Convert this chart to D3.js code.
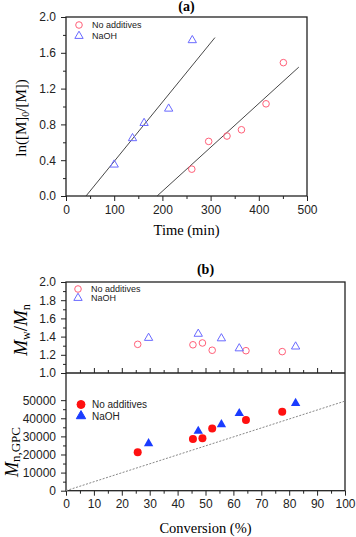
<!DOCTYPE html>
<html>
<head>
<meta charset="utf-8">
<script src="https://cdn.jsdelivr.net/npm/d3@7"></script>
<style>
  body { margin: 0; background: #fff; }
  .tick text { font-family: "Liberation Sans", Arial, sans-serif; font-size: 12px; fill: #222; }
  .axis path, .axis line { stroke: #222; }
</style>
</head>
<body>
<div id="chart"></div>
<script>
// panel (a): first-order kinetics
const timeNoAdd = [261, 296, 334, 364, 415, 451];
const lnNoAdd = [0.30, 0.61, 0.67, 0.74, 1.03, 1.49];
const timeNaOH = [100, 138, 162, 213, 262];
const lnNaOH = [0.35, 0.645, 0.815, 0.975, 1.74];
const fitNoAddT = [189, 483];
const fitNoAddY = [0, 1.44];
const fitNaOHT = [41.5, 309];
const fitNaOHY = [0, 1.77];

// panel (b): dispersity and Mn vs conversion
const convNoAdd = [25.7, 45.5, 48.9, 52.4, 64.5, 77.5];
const pdiNoAdd = [1.315, 1.31, 1.33, 1.25, 1.245, 1.235];
const mnNoAdd = [21200, 28500, 29000, 34400, 39100, 43600];
const convNaOH = [29.6, 47.4, 55.7, 62.1, 82.3];
const pdiNaOH = [1.385, 1.43, 1.38, 1.27, 1.29];
const mnNaOH = [26100, 32900, 36600, 42700, 48300];
const theoryConv = [0, 100];
const theoryMn = [0, 49500];

const legendNames = ["No additives", "NaOH"];

const W = 356, H = 537;
const pinkC = "#ff5f78", lightBlue = "#6a6aff", red = "#ff1010", blue = "#1a3cff";

const svg = d3.select("#chart").append("svg")
    .attr("width", W).attr("height", H);

const serif = "'Liberation Serif', 'Times New Roman', serif";
const sans = "'Liberation Sans', Arial, sans-serif";

function zip(a, b) { return a.map((v, i) => [v, b[i]]); }

// small helper to draw an axis with minor ticks
function drawAxis(gen, minorGen, transform) {
    if (minorGen) {
        svg.append("g").attr("class", "axis").attr("transform", transform)
            .call(minorGen).call(g => g.select(".domain").remove());
    }
    svg.append("g").attr("class", "axis").attr("transform", transform)
        .call(gen).call(g => g.select(".domain").remove());
}

// ---------- panel (a) ----------
const ax = {left: 66, right: 307, top: 17, bottom: 196};
const xA = d3.scaleLinear().domain([0, 500]).range([ax.left, ax.right]);
const yA = d3.scaleLinear().domain([0, 2]).range([ax.bottom, ax.top]);

drawAxis(d3.axisBottom(xA).tickValues(d3.range(0, 501, 100)).tickSize(5).tickPadding(4).tickFormat(d3.format("d")),
    d3.axisBottom(xA).tickValues(d3.range(50, 500, 100)).tickSize(3).tickFormat(""),
    `translate(0,${ax.bottom})`);
drawAxis(d3.axisLeft(yA).tickValues(d3.range(0, 2.01, 0.4)).tickSize(5).tickPadding(5).tickFormat(d3.format(".1f")),
    d3.axisLeft(yA).tickValues(d3.range(0.2, 2, 0.4)).tickSize(3).tickFormat(""),
    `translate(${ax.left},0)`);

svg.append("rect").attr("x", ax.left).attr("y", ax.top)
    .attr("width", ax.right - ax.left).attr("height", ax.bottom - ax.top)
    .attr("fill", "none").attr("stroke", "#222").attr("stroke-width", 1.3);

const lineA = d3.line().x(d => xA(d[0])).y(d => yA(d[1]));
[zip(fitNoAddT, fitNoAddY), zip(fitNaOHT, fitNaOHY)].forEach(pts => {
    svg.append("path").attr("d", lineA(pts))
        .attr("fill", "none").attr("stroke", "#333").attr("stroke-width", 0.9);
});

svg.append("g").selectAll("circle").data(zip(timeNoAdd, lnNoAdd)).join("circle")
    .attr("cx", d => xA(d[0])).attr("cy", d => yA(d[1])).attr("r", 3.3)
    .attr("fill", "none").attr("stroke", pinkC).attr("stroke-width", 1);
const triOpen = d3.symbol().type(d3.symbolTriangle).size(30);
svg.append("g").selectAll("path").data(zip(timeNaOH, lnNaOH)).join("path")
    .attr("d", triOpen).attr("transform", d => `translate(${xA(d[0])},${yA(d[1])})`)
    .attr("fill", "none").attr("stroke", lightBlue).attr("stroke-width", 1);

function legend(x, y, dy, fs, filled) {
    const g = svg.append("g");
    g.append("circle").attr("cx", x).attr("cy", y).attr("r", filled ? 4 : 3.3)
        .attr("fill", filled ? red : "none").attr("stroke", filled ? red : pinkC);
    g.append("path").attr("d", d3.symbol().type(d3.symbolTriangle).size(filled ? 38 : 30)())
        .attr("transform", `translate(${x},${y + dy})`)
        .attr("fill", filled ? blue : "none").attr("stroke", filled ? blue : lightBlue);
    legendNames.forEach((n, i) => {
        g.append("text").attr("x", x + (filled ? 11 : 13)).attr("y", y + i * dy)
            .attr("dy", "0.35em").attr("font-family", sans).attr("font-size", fs)
            .attr("fill", "#222").text(n);
    });
}
legend(79, 25, 11, 9, false);

svg.append("text").attr("x", (ax.left + ax.right) / 2).attr("y", 11)
    .attr("text-anchor", "middle").attr("font-family", serif).attr("font-weight", "bold")
    .attr("font-size", 14).text("(a)");
svg.append("text").attr("x", (ax.left + ax.right) / 2).attr("y", 235)
    .attr("text-anchor", "middle").attr("font-family", serif).attr("font-size", 14.5)
    .text("Time (min)");
const ylabA = svg.append("text").attr("transform", "translate(26,118) rotate(-90)")
    .attr("text-anchor", "middle").attr("font-family", serif).attr("font-size", 15);
ylabA.append("tspan").text("ln([M]");
ylabA.append("tspan").attr("font-size", 10).attr("dy", 3).text("0");
ylabA.append("tspan").attr("dy", -3).text("/[M])");

// ---------- panel (b) ----------
const bx = {left: 66, right: 345, top: 282, mid: 373, bottom: 490.7};
const xB = d3.scaleLinear().domain([0, 100]).range([bx.left, bx.right]);
const yPdi = d3.scaleLinear().domain([1, 2]).range([bx.mid, bx.top]);
const yMn = d3.scaleLinear().domain([0, 65000]).range([bx.bottom, bx.mid]);

drawAxis(d3.axisBottom(xB).tickValues(d3.range(0, 101, 10)).tickSize(5).tickPadding(4).tickFormat(d3.format("d")),
    d3.axisBottom(xB).tickValues(d3.range(5, 100, 10)).tickSize(3).tickFormat(""),
    `translate(0,${bx.bottom})`);
// ticks on shared border pointing up
drawAxis(d3.axisTop(xB).tickValues(d3.range(10, 100, 10)).tickSize(5).tickFormat(""),
    d3.axisTop(xB).tickValues(d3.range(5, 100, 10)).tickSize(3).tickFormat(""),
    `translate(0,${bx.mid})`);
drawAxis(d3.axisLeft(yPdi).tickValues(d3.range(1, 2.01, 0.2)).tickSize(5).tickPadding(5).tickFormat(d3.format(".1f")),
    d3.axisLeft(yPdi).tickValues(d3.range(1.1, 2, 0.2)).tickSize(3).tickFormat(""),
    `translate(${bx.left},0)`);
drawAxis(d3.axisLeft(yMn).tickValues(d3.range(0, 50001, 10000)).tickSize(5).tickPadding(5).tickFormat(d3.format("d")),
    d3.axisLeft(yMn).tickValues(d3.range(5000, 50000, 10000)).tickSize(3).tickFormat(""),
    `translate(${bx.left},0)`);

svg.append("rect").attr("x", bx.left).attr("y", bx.top)
    .attr("width", bx.right - bx.left).attr("height", bx.bottom - bx.top)
    .attr("fill", "none").attr("stroke", "#222").attr("stroke-width", 1.3);
svg.append("line").attr("x1", bx.left).attr("x2", bx.right).attr("y1", bx.mid).attr("y2", bx.mid)
    .attr("stroke", "#222").attr("stroke-width", 1.3);

const lineB = d3.line().x(d => xB(d[0])).y(d => yMn(d[1]));
svg.append("path").attr("d", lineB(zip(theoryConv, theoryMn)))
    .attr("fill", "none").attr("stroke", "#888").attr("stroke-width", 1)
    .attr("stroke-dasharray", "2,1.5");

svg.append("g").selectAll("circle").data(zip(convNoAdd, pdiNoAdd)).join("circle")
    .attr("cx", d => xB(d[0])).attr("cy", d => yPdi(d[1])).attr("r", 3.3)
    .attr("fill", "none").attr("stroke", pinkC).attr("stroke-width", 1);
svg.append("g").selectAll("path").data(zip(convNaOH, pdiNaOH)).join("path")
    .attr("d", triOpen).attr("transform", d => `translate(${xB(d[0])},${yPdi(d[1])})`)
    .attr("fill", "none").attr("stroke", lightBlue).attr("stroke-width", 1);

svg.append("g").selectAll("circle").data(zip(convNoAdd, mnNoAdd)).join("circle")
    .attr("cx", d => xB(d[0])).attr("cy", d => yMn(d[1])).attr("r", 4)
    .attr("fill", red);
const triFill = d3.symbol().type(d3.symbolTriangle).size(38);
svg.append("g").selectAll("path").data(zip(convNaOH, mnNaOH)).join("path")
    .attr("d", triFill).attr("transform", d => `translate(${xB(d[0])},${yMn(d[1])})`)
    .attr("fill", blue);

legend(78, 289, 9, 9, false);
legend(81, 404.5, 11.5, 10, true);

svg.append("text").attr("x", (bx.left + bx.right) / 2).attr("y", 274)
    .attr("text-anchor", "middle").attr("font-family", serif).attr("font-weight", "bold")
    .attr("font-size", 14).text("(b)");
svg.append("text").attr("x", (bx.left + bx.right) / 2).attr("y", 533)
    .attr("text-anchor", "middle").attr("font-family", serif).attr("font-size", 14.5)
    .text("Conversion (%)");

const ylabPdi = svg.append("text").attr("transform", "translate(27,330) rotate(-90)")
    .attr("text-anchor", "middle").attr("font-family", serif).attr("font-size", 19);
ylabPdi.append("tspan").attr("font-style", "italic").text("M");
ylabPdi.append("tspan").attr("font-size", 12).attr("dy", 3).text("w");
ylabPdi.append("tspan").attr("dy", -3).text("/");
ylabPdi.append("tspan").attr("font-style", "italic").text("M");
ylabPdi.append("tspan").attr("font-size", 12).attr("dy", 3).text("n");

const ylabMn = svg.append("text").attr("transform", "translate(18,452) rotate(-90)")
    .attr("text-anchor", "middle").attr("font-family", serif).attr("font-size", 18);
ylabMn.append("tspan").attr("font-style", "italic").text("M");
ylabMn.append("tspan").attr("font-size", 13).attr("dy", 2).text("n,GPC");
</script>
</body>
</html>
